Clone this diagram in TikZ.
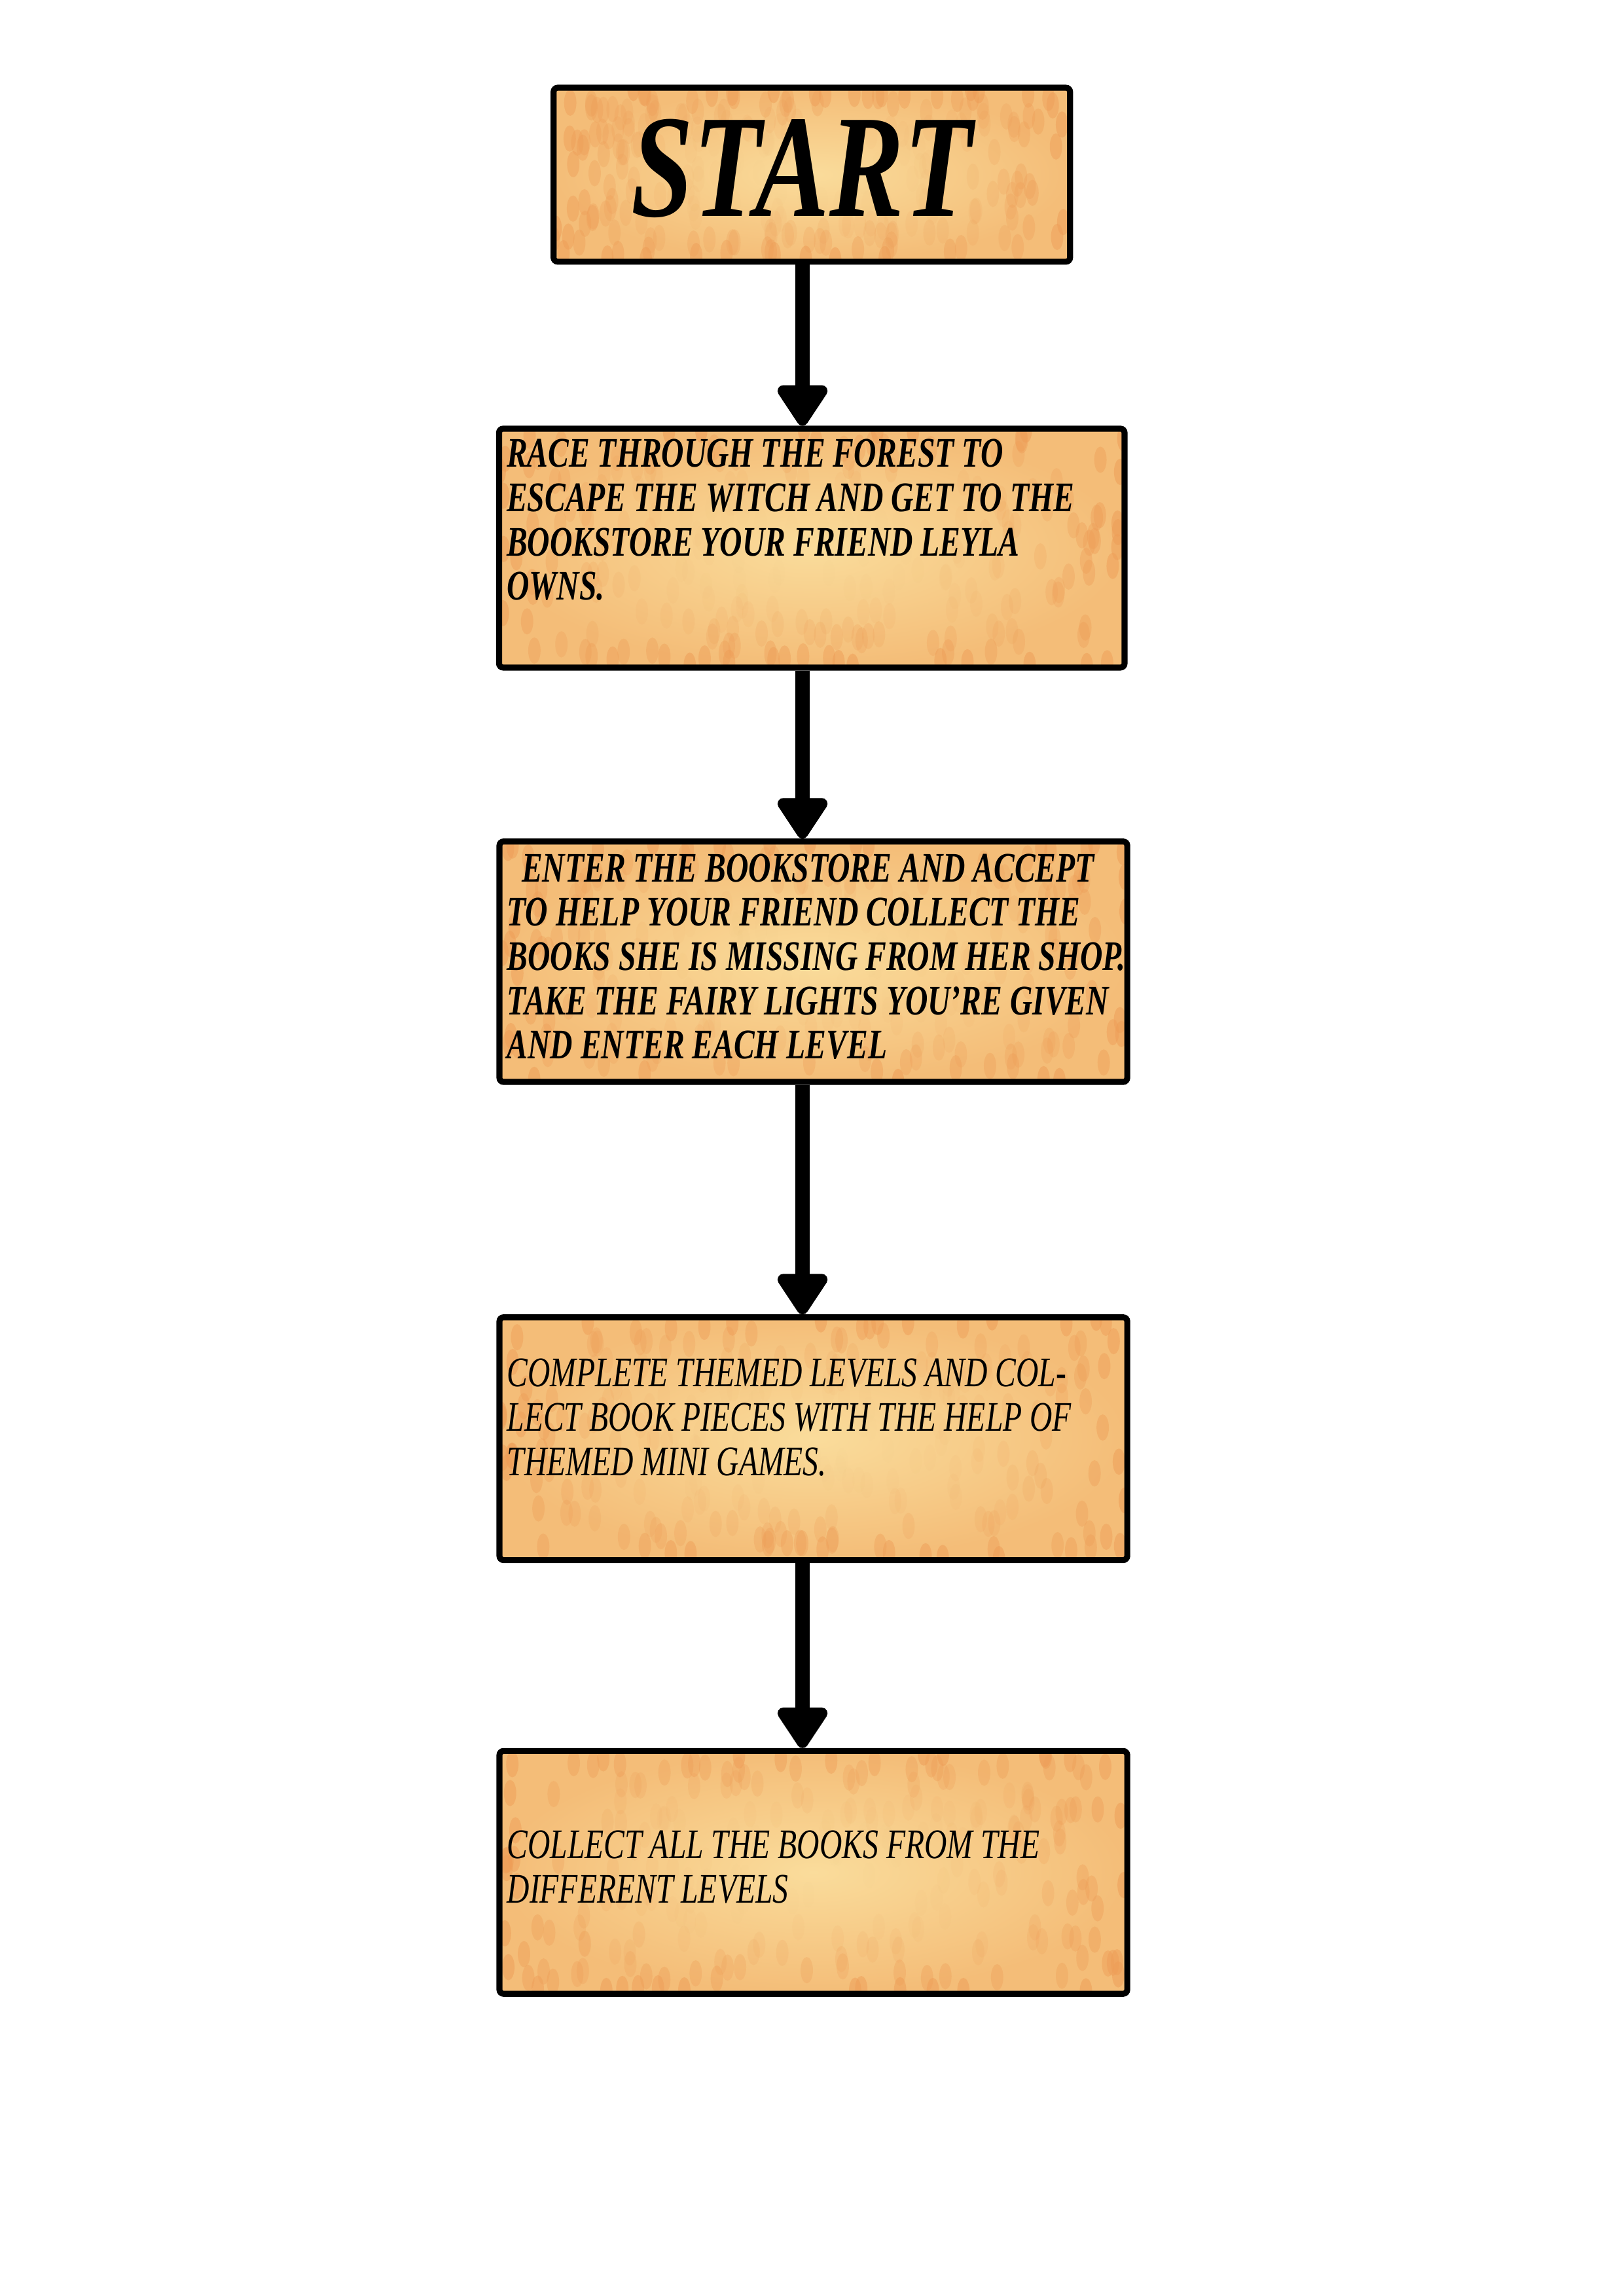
\documentclass[tikz,border=0pt]{standalone}
\usepackage{fontspec}
\usetikzlibrary{arrows.meta, positioning, calc}
\newfontfamily\cardfont{Liberation Serif}[FakeStretch=0.74]
\newfontfamily\startfont{Liberation Serif}[FakeStretch=0.76]
\definecolor{paperlight}{HTML}{FADC9B}
\definecolor{paperedge}{HTML}{F4BD78}
\definecolor{paperspot}{HTML}{EE9D57}
\pgfmathsetseed{7}

\begin{document}
\begin{tikzpicture}[
    card/.style={draw, line width=2.2pt, rounded corners=1.5pt, shade, shading=radial, inner color=paperlight, outer color=paperedge,
        minimum width=8.09cm, minimum height=3.09cm, inner sep=0pt,
        path picture={
            \foreach \k in {1,...,240}{
                \pgfmathsetmacro{\px}{rnd}
                \pgfmathsetmacro{\py}{rnd}
                \pgfmathsetmacro{\op}{0.55*max(abs(2*\px-1),abs(2*\py-1))^3}
                \fill[paperspot, opacity=\op] let \p1=(path picture bounding box.south west), \p2=(path picture bounding box.north east) in
                    ({\x1+\px*(\x2-\x1)},{\y1+\py*(\y2-\y1)}) ellipse [x radius=0.08cm, y radius=0.17cm];
            }
        }},
    txt/.style={anchor=north west, inner sep=0pt, align=left, font=\cardfont\bfseries\itshape\fontsize{15.5}{16.3}\selectfont},
    txtlight/.style={txt, font=\cardfont\itshape\fontsize{15.5}{16.3}\selectfont},
    flow/.style={-{Triangle[width=0.73cm, length=0.59cm, round]}, line width=5.4pt}
]
    \useasboundingbox (0,0) rectangle (21,-29.7);
    % boxes
    \node[card, minimum width=6.68cm, minimum height=2.25cm] (start) at (10.50,-2.26) {};
    \node[card] (race) at (10.50,-7.09) {};
    \node[card, minimum width=8.12cm, minimum height=3.11cm] (enter) at (10.52,-12.44) {};
    \node[card, minimum width=8.12cm, minimum height=3.14cm] (themed) at (10.52,-18.61) {};
    \node[card, minimum width=8.12cm, minimum height=3.14cm] (collect) at (10.52,-24.22) {};
    % texts
    \node[font=\startfont\bfseries\itshape\fontsize{54}{54}\selectfont, inner sep=0pt] (start-t) at ([shift={(-0.13,0.08)}]start.center) {START};
    \node[txt] (race-t) at ([shift={(0.13,-0.17)}]race.north west) {RACE THROUGH THE FOREST TO\\ESCAPE THE WITCH AND GET TO THE\\BOOKSTORE YOUR FRIEND LEYLA\\OWNS.};
    \node[txt] (enter-t) at ([shift={(0.13,-0.19)}]enter.north west) {\hspace{0.19cm}ENTER THE BOOKSTORE AND ACCEPT\\TO HELP YOUR FRIEND COLLECT THE\\BOOKS SHE IS MISSING FROM HER SHOP.\\TAKE THE FAIRY LIGHTS YOU’RE GIVEN\\AND ENTER EACH LEVEL};
    \node[txtlight] (themed-t) at ([shift={(0.13,-0.57)}]themed.north west) {COMPLETE THEMED LEVELS AND COL-\\LECT BOOK PIECES WITH THE HELP OF\\THEMED MINI GAMES.};
    \node[txtlight] (collect-t) at ([shift={(0.13,-1.06)}]collect.north west) {COLLECT ALL THE BOOKS FROM THE\\DIFFERENT LEVELS};
    % arrows
    \coordinate (ax) at (10.38,0);
    \draw[flow] (start.south -| ax) -- (race.north -| ax);
    \draw[flow] (race.south -| ax) -- (enter.north -| ax);
    \draw[flow] (enter.south -| ax) -- (themed.north -| ax);
    \draw[flow] (themed.south -| ax) -- (collect.north -| ax);
\end{tikzpicture}
\end{document}
